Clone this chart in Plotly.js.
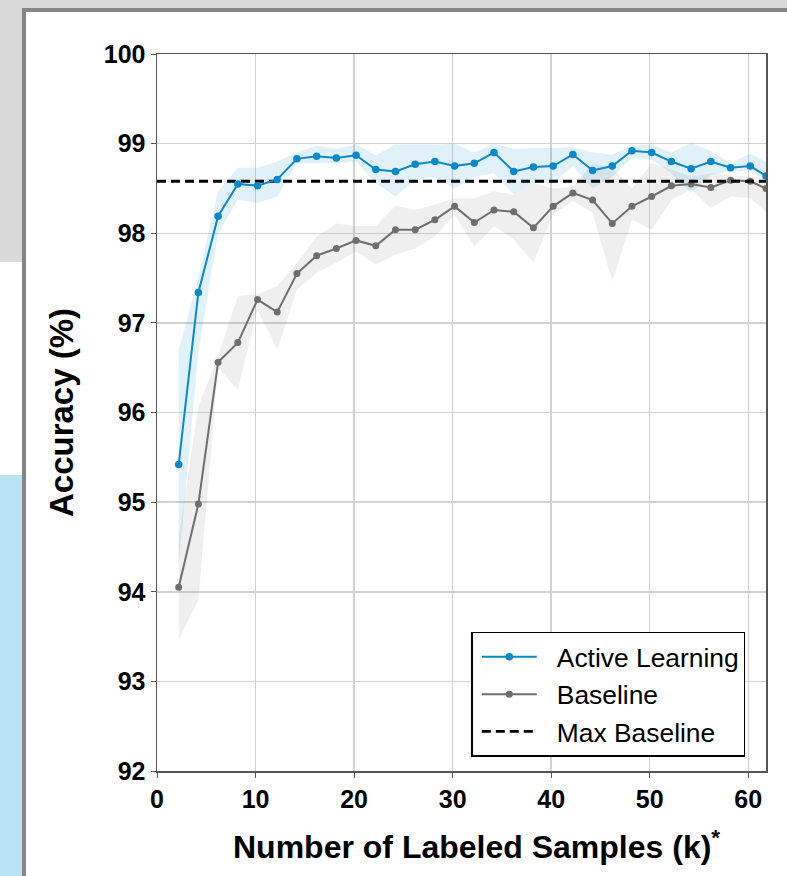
<!DOCTYPE html>
<html>
<head>
<meta charset="utf-8">
<script src="https://cdn.plot.ly/plotly-3.0.1.min.js"></script>
<style>
  html, body { margin: 0; padding: 0; width: 787px; height: 876px; overflow: hidden; background: #ffffff; }
  #bgTop { position: absolute; left: 0; top: 0; width: 787px; height: 8px; background: #d9d9d9; }
  #bgLeftGray { position: absolute; left: 0; top: 0; width: 22px; height: 262px; background: #d9d9d9; }
  #bgLeftBlue { position: absolute; left: 0; top: 475px; width: 22px; height: 401px; background: #b8e2f6; }
  #frame { position: absolute; left: 22px; top: 8px; width: 800px; height: 900px; border-left: 4px solid #858585; border-top: 4px solid #858585; background: #ffffff; }
  #chart { position: absolute; left: 0; top: 0; width: 787px; height: 876px; }
</style>
</head>
<body>
<div id="bgTop"></div>
<div id="bgLeftGray"></div>
<div id="bgLeftBlue"></div>
<div id="frame"></div>
<div id="chart"></div>
<script>
// Number of labeled samples (k)
const samples = [2.2, 4.2, 6.2, 8.2, 10.2, 12.2, 14.2, 16.2, 18.2, 20.2,
                 22.2, 24.2, 26.2, 28.2, 30.2, 32.2, 34.2, 36.2, 38.2, 40.2,
                 42.2, 44.2, 46.2, 48.2, 50.2, 52.2, 54.2, 56.2, 58.2, 60.2, 61.8];

// Active learning accuracy (%)
const activeMean = [95.42, 97.34, 98.19, 98.55, 98.53, 98.60, 98.83, 98.86, 98.84, 98.87,
                    98.71, 98.69, 98.77, 98.80, 98.75, 98.78, 98.90, 98.69, 98.74, 98.75,
                    98.88, 98.70, 98.75, 98.92, 98.90, 98.80, 98.72, 98.80, 98.73, 98.75, 98.64];
const activeUpper = [96.70, 97.50, 98.47, 98.73, 98.73, 98.80, 98.90, 98.98, 98.94, 98.99,
                     98.87, 98.99, 98.99, 98.99, 99.00, 98.90, 99.00, 98.94, 98.95, 98.95,
                     98.96, 98.90, 98.88, 98.98, 98.99, 98.90, 99.01, 98.92, 98.78, 98.89, 98.80];
const activeLower = [94.30, 96.68, 98.00, 98.37, 98.34, 98.41, 98.78, 98.78, 98.78, 98.80,
                     98.56, 98.41, 98.60, 98.63, 98.50, 98.63, 98.67, 98.43, 98.56, 98.56,
                     98.75, 98.50, 98.63, 98.84, 98.82, 98.67, 98.45, 98.65, 98.69, 98.70, 98.58];

// Baseline accuracy (%)
const baseMean = [94.05, 94.98, 96.56, 96.78, 97.26, 97.12, 97.55, 97.75, 97.83, 97.92,
                  97.86, 98.04, 98.04, 98.15, 98.30, 98.12, 98.26, 98.24, 98.06, 98.30,
                  98.45, 98.37, 98.11, 98.30, 98.41, 98.53, 98.55, 98.51, 98.59, 98.58, 98.50];
const baseUpper = [94.60, 96.07, 96.63, 97.30, 97.32, 97.41, 97.67, 97.96, 98.11, 98.08,
                   98.08, 98.31, 98.26, 98.32, 98.39, 98.39, 98.47, 98.43, 98.56, 98.50,
                   98.52, 98.78, 98.73, 98.50, 98.78, 98.71, 98.63, 98.67, 98.65, 98.63, 98.58];
const baseLower = [93.46, 93.91, 96.50, 96.25, 97.15, 96.70, 97.37, 97.56, 97.67, 97.80,
                   97.65, 97.76, 97.83, 97.96, 98.21, 97.85, 98.08, 97.93, 97.67, 98.21,
                   98.36, 98.23, 97.46, 98.15, 98.04, 98.37, 98.49, 98.28, 98.41, 98.39, 98.24];

// Best baseline accuracy (%)
const maxBaseline = 98.58;

const xTicks = [0, 10, 20, 30, 40, 50, 60];
const yTicks = [92, 93, 94, 95, 96, 97, 98, 99, 100];

const xTitle = 'Number of Labeled Samples (k)<sup>*</sup>';
const yTitle = 'Accuracy (%)';

const blue = '#0a88cc';
const gray = '#6e6e6e';
const FONT = 'Liberation Sans, Arial, Helvetica, sans-serif';

function band(xs, up, lo) {
  return { x: xs.concat(xs.slice().reverse()), y: up.concat(lo.slice().reverse()) };
}
const gBand = band(samples, baseUpper, baseLower);
const bBand = band(samples, activeUpper, activeLower);

const traces = [
  { x: gBand.x, y: gBand.y, type: 'scatter', mode: 'lines', fill: 'toself',
    fillcolor: 'rgba(150,150,150,0.15)', line: { width: 0, color: 'rgba(0,0,0,0)' },
    showlegend: false, hoverinfo: 'skip' },
  { x: bBand.x, y: bBand.y, type: 'scatter', mode: 'lines', fill: 'toself',
    fillcolor: 'rgba(10,136,204,0.12)', line: { width: 0, color: 'rgba(0,0,0,0)' },
    showlegend: false, hoverinfo: 'skip' },
  { x: samples, y: baseMean, type: 'scatter', mode: 'lines+markers', name: 'Baseline',
    line: { color: gray, width: 2 }, marker: { color: gray, size: 7 }, legendrank: 2 },
  { x: [0, samples[samples.length - 1]], y: [maxBaseline, maxBaseline], type: 'scatter', mode: 'lines',
    name: 'Max Baseline', line: { color: '#000000', width: 2.8, dash: '9px,5px' }, legendrank: 3 },
  { x: samples, y: activeMean, type: 'scatter', mode: 'lines+markers', name: 'Active Learning',
    line: { color: blue, width: 2 }, marker: { color: blue, size: 7.5 }, legendrank: 1 }
];

const layout = {
  width: 787, height: 876,
  margin: { l: 157, r: 21, t: 54, b: 105 },
  paper_bgcolor: 'rgba(0,0,0,0)',
  plot_bgcolor: '#ffffff',
  font: { family: FONT, color: '#000000' },
  xaxis: {
    range: [0, 61.8], tickvals: xTicks, ticktext: xTicks.map(String),
    showgrid: true, gridcolor: '#d2d2d2', gridwidth: 1.5, zeroline: false,
    showline: true, linecolor: '#555555', linewidth: 1.5, mirror: true,
    ticks: 'outside', ticklen: 5, tickcolor: '#555555', tickwidth: 1,
    tickfont: { size: 25, family: FONT, weight: 'bold', color: '#000000' }
  },
  yaxis: {
    range: [92, 100], tickvals: yTicks, ticktext: yTicks.map(String),
    showgrid: true, gridcolor: '#d2d2d2', gridwidth: 1.5, zeroline: false,
    showline: true, linecolor: '#555555', linewidth: 1.5, mirror: true,
    ticks: 'outside', ticklen: 5, tickcolor: '#555555', tickwidth: 1,
    tickfont: { size: 25, family: FONT, weight: 'bold', color: '#000000' },
    title: { text: yTitle, standoff: 20,
             font: { size: 33, family: FONT, weight: 'bold', color: '#000000' } }
  },
  annotations: [{
    text: xTitle, xref: 'paper', yref: 'paper', x: 0.524, y: -0.103,
    xanchor: 'center', yanchor: 'middle', showarrow: false,
    font: { size: 32, family: FONT, weight: 'bold', color: '#000000' }
  }],
  legend: {
    x: 0.966, y: 0.02, xanchor: 'right', yanchor: 'bottom',
    bgcolor: '#ffffff', bordercolor: '#000000', borderwidth: 1.5,
    font: { size: 26.4, family: FONT, color: '#000000' },
    itemwidth: 74
  },
  showlegend: true
};

Plotly.newPlot('chart', traces, layout, { displayModeBar: false, staticPlot: true }).then(function (gd) {
  // lengthen the legend line samples to match the wider symbol column
  const lines = gd.querySelectorAll('.legend .legendlines path, .legend .legendfill path');
  lines.forEach(function (p) {
    const d = p.getAttribute('d');
    if (d && /^M5,0h\d+/.test(d)) p.setAttribute('d', 'M9,0h55');
  });
  gd.querySelectorAll('.legend .legendpoints path.scatterpts').forEach(function (p) {
    p.setAttribute('transform', 'translate(36.5,0)');
  });
});
</script>
</body>
</html>
